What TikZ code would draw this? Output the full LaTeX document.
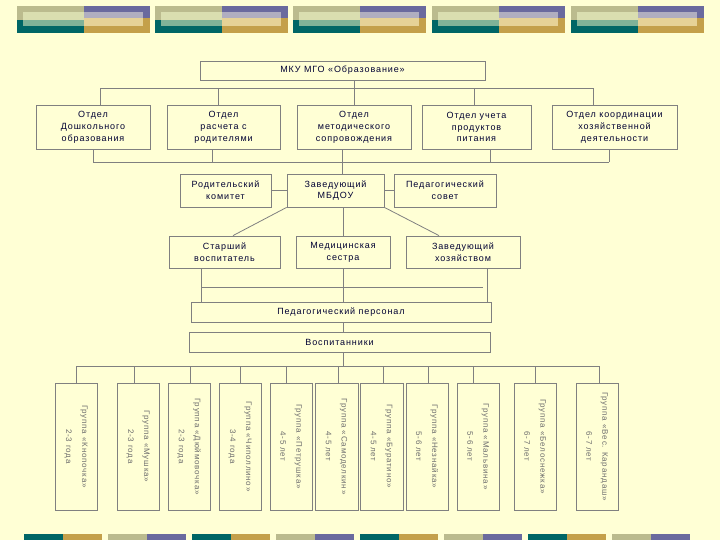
\documentclass[tikz,border=0pt]{standalone}
\usepackage{fontspec}
\setmainfont{Liberation Sans}
\newfontfamily\boxfont[LetterSpace=10]{Liberation Sans}
\newfontfamily\grpfont[LetterSpace=10]{Liberation Sans}
\usetikzlibrary{calc}
\definecolor{bg}{RGB}{255,255,213}
\definecolor{ln}{RGB}{128,128,128}
\definecolor{tx}{RGB}{0,0,51}
\definecolor{gt}{RGB}{110,110,110}
\definecolor{khaki}{RGB}{187,187,142}
\definecolor{khakiL}{RGB}{218,222,176}
\definecolor{tealc}{RGB}{0,102,102}
\definecolor{tealL}{RGB}{128,178,152}
\definecolor{purp}{RGB}{106,106,158}
\definecolor{purpL}{RGB}{176,174,192}
\definecolor{goldc}{RGB}{196,160,74}
\definecolor{goldL}{RGB}{230,210,150}
\tikzset{
  box/.style={draw=ln, fill=bg, line width=0.8pt, text=tx, align=center, inner sep=0pt,
    font=\boxfont\fontsize{9}{11.8}\selectfont},
  gbox/.style={draw=ln, fill=bg, line width=0.8pt, text=gt, align=center, inner sep=0pt,
    rotate=-90, minimum width=127pt, minimum height=42pt,
    font=\grpfont\fontsize{8}{16}\selectfont},
  conn/.style={draw=ln, line width=0.8pt}
}
\begin{document}
\begin{tikzpicture}[x=1pt,y=-1pt]
\fill[bg] (0,0) rectangle (720,540);
\useasboundingbox (0,0) rectangle (720,540);
% top decoration
\foreach \x in {17,155,293,432,571}{
  \fill[khaki] (\x,6) rectangle (\x+66.5,20);
  \fill[tealc] (\x,20) rectangle (\x+66.5,33);
  \fill[purp] (\x+66.5,6) rectangle (\x+133,18.5);
  \fill[goldc] (\x+66.5,18.5) rectangle (\x+133,33);
  \fill[khakiL] (\x+6,12) rectangle (\x+66.5,20);
  \fill[tealL] (\x+6,20) rectangle (\x+66.5,26);
  \fill[purpL] (\x+66.5,12) rectangle (\x+126,18.5);
  \fill[goldL] (\x+66.5,18.5) rectangle (\x+126,26);
}
% bottom decoration
\foreach \i in {0,2,4,6}{
  \fill[tealc] (24+84*\i,534) rectangle (63+84*\i,540);
  \fill[goldc] (63+84*\i,534) rectangle (102+84*\i,540);
}
\foreach \i in {1,3,5,7}{
  \fill[khaki] (24+84*\i,534) rectangle (63+84*\i,540);
  \fill[purp] (63+84*\i,534) rectangle (102+84*\i,540);
}
% nodes
\node[box, minimum width=285pt, minimum height=19pt] (top) at (342.5,70.5) {МКУ МГО «Образование»};
\node[box, minimum width=114pt, minimum height=44pt] (d1) at (93,127) {Отдел\\Дошкольного\\образования};
\node[box, minimum width=113pt, minimum height=44pt] (d2) at (223.5,127) {Отдел\\расчета с\\родителями};
\node[box, minimum width=114pt, minimum height=44pt] (d3) at (354,127) {Отдел\\методического\\сопровождения};
\node[box, minimum width=109pt, minimum height=44pt] (d4) at (476.5,127) {Отдел учета\\продуктов\\питания};
\node[box, minimum width=125pt, minimum height=44pt] (d5) at (614.5,127) {Отдел координации\\хозяйственной\\деятельности};
\node[box, minimum width=91pt, minimum height=33pt] (rk) at (225.5,190.5) {Родительский\\комитет};
\node[box, minimum width=97pt, minimum height=33pt] (zav) at (335.5,190.5) {Заведующий\\МБДОУ};
\node[box, minimum width=102pt, minimum height=33pt] (ps) at (445,190.5) {Педагогический\\совет};
\node[box, minimum width=111pt, minimum height=32pt] (sv) at (224.5,252) {Старший\\воспитатель};
\node[box, minimum width=94pt, minimum height=32pt] (ms) at (343,252) {Медицинская\\сестра};
\node[box, minimum width=114pt, minimum height=32pt] (zh) at (463,252) {Заведующий\\хозяйством};
\node[box, minimum width=300pt, minimum height=20pt] (pp) at (341,312) {Педагогический персонал};
\node[box, minimum width=301pt, minimum height=20pt] (vs) at (339.5,342) {Воспитанники};
\node[gbox] (g1) at (76,446.5) {Группа «Кнопочка»\\2-3 года};
\node[gbox] (g2) at (138,446.5) {Группа «Мушка»\\2-3 года};
\node[gbox] (g3) at (189,446.5) {Группа «Дюймовочка»\\2-3 года};
\node[gbox] (g4) at (240,446.5) {Группа «Чиполлино»\\3-4 года};
\node[gbox] (g5) at (291,446.5) {Группа «Петрушка»\\4-5 лет};
\node[gbox, minimum height=43pt] (g6) at (336.5,446.5) {Группа «Самоделкин»\\4-5 лет};
\node[gbox, minimum height=43pt] (g7) at (381.5,446.5) {Группа «Буратино»\\4-5 лет};
\node[gbox] (g8) at (427,446.5) {Группа «Незнайка»\\5-6 лет};
\node[gbox] (g9) at (478,446.5) {Группа «Мальвина»\\5-6 лет};
\node[gbox] (g10) at (535,446.5) {Группа «Белоснежка»\\6-7 лет};
\node[gbox] (g11) at (597,446.5) {Группа «Вес. Карандаш»\\6-7 лет};
% bus coordinates
\coordinate (tb) at (0,88);
\coordinate (bb) at (0,162);
\coordinate (pb) at (0,287);
\coordinate (gb) at (0,366);
% top level connectors
\draw[conn] (top.south -| d3.north) -- (d3.north);
\draw[conn] ([xshift=7pt]d1.north |- tb) -- ([xshift=-21.5pt]d5.north |- tb);
\draw[conn] ([xshift=7pt]d1.north) -- ([xshift=7pt]d1.north |- tb);
\draw[conn] ([xshift=-5.5pt]d2.north) -- ([xshift=-5.5pt]d2.north |- tb);
\draw[conn] ([xshift=-2.5pt]d4.north) -- ([xshift=-2.5pt]d4.north |- tb);
\draw[conn] ([xshift=-21.5pt]d5.north) -- ([xshift=-21.5pt]d5.north |- tb);
% lower bus of departments
\draw[conn] (d1.south |- bb) -- ([xshift=-5.5pt]d5.south |- bb);
\draw[conn] (d1.south) -- (d1.south |- bb);
\draw[conn] ([xshift=-11.5pt]d2.south) -- ([xshift=-11.5pt]d2.south |- bb);
\draw[conn] ([xshift=6.5pt]zav.north) -- ([xshift=6.5pt]zav.north |- d3.south);
\draw[conn] ([xshift=13.5pt]d4.south) -- ([xshift=13.5pt]d4.south |- bb);
\draw[conn] ([xshift=-5.5pt]d5.south) -- ([xshift=-5.5pt]d5.south |- bb);
% row 2
\draw[conn] (rk.east) -- (zav.west);
\draw[conn] (zav.east) -- (ps.west);
\draw[conn] (zav.south west) -- ([xshift=8.5pt]sv.north);
\draw[conn] (zav.south east) -- ([xshift=-24pt]zh.north);
\draw[conn] (ms.north |- zav.south) -- (ms.north);
% row 3 to personnel
\draw[conn] ([xshift=-23.5pt]sv.south) -- ([xshift=-23.5pt]sv.south |- pp.north);
\draw[conn] (ms.south) -- (ms.south |- pp.north);
\draw[conn] ([xshift=24pt]zh.south) -- ([xshift=24pt]zh.south |- pp.north);
\draw[conn] ([xshift=-23.5pt]sv.south |- pb) -- ([xshift=20pt]zh.south |- pb);
\draw[conn] ([xshift=2pt]pp.south) -- ([xshift=2pt]pp.south |- vs.north);
\draw[conn] ([xshift=4pt]vs.south) -- ([xshift=4pt]vs.south |- gb);
% groups
\draw[conn] (g1.west |- gb) -- ([xshift=2pt]g11.west |- gb);
\draw[conn] (g1.west) -- (g1.west |- gb);
\draw[conn] ([xshift=-4pt]g2.west) -- ([xshift=-4pt]g2.west |- gb);
\draw[conn] ([xshift=1pt]g3.west) -- ([xshift=1pt]g3.west |- gb);
\draw[conn] (g4.west) -- (g4.west |- gb);
\draw[conn] ([xshift=-5pt]g5.west) -- ([xshift=-5pt]g5.west |- gb);
\draw[conn] ([xshift=1.5pt]g6.west) -- ([xshift=1.5pt]g6.west |- gb);
\draw[conn] ([xshift=1.5pt]g7.west) -- ([xshift=1.5pt]g7.west |- gb);
\draw[conn] ([xshift=1pt]g8.west) -- ([xshift=1pt]g8.west |- gb);
\draw[conn] ([xshift=-5pt]g9.west) -- ([xshift=-5pt]g9.west |- gb);
\draw[conn] (g10.west) -- (g10.west |- gb);
\draw[conn] ([xshift=2pt]g11.west) -- ([xshift=2pt]g11.west |- gb);
\end{tikzpicture}
\end{document}
